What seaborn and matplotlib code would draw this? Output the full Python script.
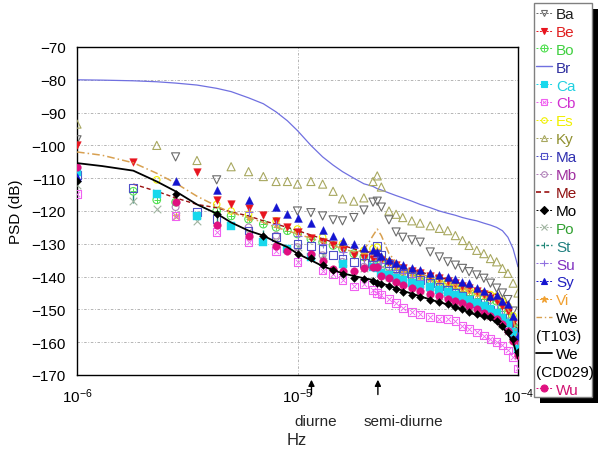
import numpy as np
import pandas as pd
import matplotlib
matplotlib.use("Agg")
import matplotlib.pyplot as plt
import seaborn as sns
from matplotlib.lines import Line2D
from matplotlib.patches import Rectangle
from matplotlib.ticker import MultipleLocator, LogLocator, NullFormatter

N = np.nan

# frequency grid in micro-Hz (1e-6 Hz)
freq_uHz = [1.0, 1.3, 1.8, 2.3, 2.8, 3.5, 4.3, 5.0, 6.0, 7.0,
            8.0, 9.0, 10, 11.5, 13, 14.5, 16, 18, 20, 22,
            23, 24, 26, 28, 30, 33, 36, 40, 44, 48,
            52, 56, 60, 65, 70, 75, 80, 85, 90, 95,
            100]

psd_Br = [-80, -80.1, -80.3, -80.6, -81.0, -81.6, -82.6, -83.6, -85.5, -87.3,
          -89.8, -92.5, -95.5, -100, -103.5, -106, -108, -110, -111.7, -112.5,
          -113.2, -113.6, -114.5, -115.3, -116, -117, -118, -119, -120, -120.7,
          -121.3, -122, -122.5, -123, -123.7, -124.3, -125, -126, -128, -131.5,
          -137]
psd_Ky = [-93.5, N, N, -100, N, -104.6, N, -106.5, -108, -109.5,
          -111, -111, -111.8, -111, -111.8, -114, -116.3, -117, -116, -111,
          -109.3, -112.7, -120, -121, -122, -123, -123.7, -124.5, -125.3, -126,
          -127.5, -129, -130.5, -132, -133, -134.5, -135.5, -137.5, -139, -142,
          -145]
psd_Ba = [-98.3, N, N, N, -103.5, N, -110.5, N, N, N,
          N, N, -120, -120.5, -121.5, -122.7, -123, -122, -119.7, -117.3,
          -117, -118.8, -122.7, -126.4, -128, -128.8, -129.5, -132.5, -134, -135.5,
          -136.5, -137.5, -138.5, -139.5, -140.5, -142, -143.5, -145, -147, -150.5,
          -156]
psd_Sy = [-109.5, N, N, N, -110.8, N, -113.6, N, -116.6, N,
          -118.8, -121, -122, -123.7, -125.8, -127.6, -129, -130, -131.3, -132,
          -132.5, -133.7, -135, -136, -136.5, -137.3, -138, -139, -139.6, -140,
          -140.8, -141.5, -142, -143.5, -144.5, -146, -145.5, -147.5, -148.5, -152,
          -158]
psd_Be = [-100, N, -105, N, N, -108, -116.6, -117.9, -119, -121.2,
          -123, -125, -126.5, -128.3, -129.3, -130.5, -132, -133.5, -134.2, -134.6,
          -134, -135, -135.8, -136.5, -137.3, -138.3, -139, -139.8, -140.5, -141.3,
          -142, -142.8, -143.5, -144.5, -145.3, -146.5, -147.5, -149, -150.5, -154,
          -160]
psd_Bo = [N, N, -114, -116.6, -117.3, N, -120, -121.5, -122.5, -124,
          -125, -126, -127, -128.5, -129.5, -130.5, -131.5, -133, -134, -135,
          -134, -136, -137, -137.8, -138.5, -139.5, -140.3, -141, -141.8, -142.5,
          -143.5, -144.5, -145.5, -146.5, -146.8, -147, -147.5, -149.5, -151.5, -155,
          -160]
psd_Es = [N, N, N, -110.5, N, N, -118, -120, -121, N,
          -123, N, -125.5, N, -128, N, -130, N, -132, -131.5,
          -131, -134.5, -135.5, -136.5, -137.3, -138.3, -139, -140, -140.7, -141.5,
          -142.3, -143, -143.8, -144.5, -145, -145.5, -146, -147.5, -149, -152,
          -157]
psd_Vi = [N, N, N, N, -121.5, N, N, N, -122, N,
          -124, N, -126.5, N, -129, N, -131, N, -133, -132.5,
          -132, -134.5, -136, -137.5, -138.5, -139.3, -140, -140.8, -141.5, -142.3,
          -143, -143.8, -144.5, -145.3, -146, -146.5, -147, -148.5, -150.5, -153,
          -158]
psd_Me = [N, N, -111.8, -114, -116, -118, -119, -120.3, -121.5, -123,
          -124, -125, -126, -127.3, -128.5, -129.5, -130.5, -131.5, -132.5, -132.5,
          -132, -134, -135, -136, -137, -138, -138.5, -139.5, -140, -141,
          -141.5, -142.3, -143, -143.8, -144.5, -145, -145.5, -147, -148, -151.5,
          -157]
psd_Mo = [-111, N, N, N, -114.8, N, -121, N, N, -127.5,
          N, N, -133, -134.3, -136.5, -138, -139.2, -140.4, -140.7, -141.3,
          -141.8, -142.3, -143, -143.7, -144.7, -145.5, -146.3, -147.2, -147.8, -148.5,
          -149.3, -150, -150.8, -151.5, -152, -152.3, -153.5, -155, -157, -159,
          -163]
psd_We_CD029 = [-105.4, -106.3, -107.7, -111, -114, -118, -120.8, -123.5, -126, -127.5,
                -129.5, -131, -133, -135, -136.8, -138, -139, -139.8, -140.5, -141,
                -141.5, -142, -142.8, -143.5, -144.3, -145.2, -146, -147, -147.8, -148.5,
                -149.3, -150, -151, -151.7, -152.2, -152.8, -154, -155.5, -157.5, -160,
                -165]
psd_We_T103 = [-102, -103, -105.3, -108.5, -111.5, -115.5, -118.5, -120.5, -122, -123.5,
               -125, -126, -127, -128.3, -129.5, -130.5, -131.5, -132.5, -132, -127.5,
               -125.5, -127.5, -133, -135.5, -137, -138.5, -139.3, -140, -140.8, -141.5,
               -142.5, -143.3, -144, -145, -145.5, -146, -146.5, -148, -150, -153,
               -159]
psd_Wu = [-106.6, N, N, N, -117.3, N, -124.3, N, -127.6, N,
          -130.7, -132.2, N, -133, -135.2, -137.7, -138.3, -138.3, -137.5, -137,
          -137, -139.8, -140.5, -141.5, -142.5, -143.5, -144.5, -145.3, -146, -146.7,
          -147.3, -148, -149, -150, -151, -152, -153, -154.5, -156.5, -159.5,
          -164]
psd_Cb = [-114.8, N, N, N, -121.5, N, -126.4, N, -129.5, N,
          -132.2, N, -135.5, N, -138.2, -139.2, -141, -143, -142.3, -144,
          -145, -145.5, -146.8, -148, -149.5, -150.8, -151.5, -152.3, -152.8, -153,
          -153.5, -155, -156, -157, -158, -159, -160, -161, -162.5, -164.5,
          -168]
psd_Ma = [-109, N, -113, N, N, -120.3, -122.4, N, -126, N,
          -128, N, -130, -130.6, -131.6, -133.5, -134.5, -135.5, -135.8, -134,
          -130.6, -133.5, -136, -137.5, -139, -140.2, -141, -142, -143, -144,
          -145, -146, -147, -148, -149, -150, -151, -152.5, -154.5, -157,
          -162]
psd_Ca = [-108, N, N, -114.8, N, -121.5, N, -124.6, N, -129.5,
          N, -131.6, N, -134, N, N, -136.2, N, N, -137,
          -137.5, -139, -139.5, -140.3, -141, -142, -142.5, -143.3, -144, -144.8,
          -145.5, -146.3, -147, -148, -149, -150, -151, -152.5, -154, -157,
          -162]
psd_Mb = [N, N, N, N, -118.8, N, N, N, -125, N,
          -127.5, N, -131, N, -133.5, N, -135.5, N, -137, N,
          -136, -138, -139, -140, -141, -142, -143, -144, -145, -146,
          -146.8, -147.5, -148.3, -149, -150, -151, -152, -153.5, -155.5, -158.5,
          -163]
psd_Po = [-112, N, -117, -119.4, -121.5, -123, N, N, -127, N,
          -129, N, -131, N, -133.5, N, -135.5, N, -137.5, N,
          -137, -139, -140, -141, -142, -143, -144, -145, -146, -147,
          -147.8, -148.5, -149.3, -150, -151, -152, -153, -154.5, -156.5, -159,
          -164]
psd_St = [N, N, -116.3, N, N, N, -122, N, N, -127,
          N, N, -131.5, N, -134, N, -136, N, -137.5, N,
          -137, -138.5, -139.5, -140.5, -141.5, -142.5, -143.3, -144, -145, -146,
          -147, -148, -148.8, -149.5, -150.5, -151.5, -152.5, -154, -156, -159,
          -164]
psd_Su = [N, N, N, N, N, N, N, N, -120.3, N,
          -124, N, -127.5, N, -130, N, -132.5, N, -134.5, N,
          -134, -136, -137, -138, -139, -140, -141, -142, -143, -144,
          -145, -146, -146.8, -147.5, -148.3, -149, -150, -151.5, -153.5, -156.5,
          -161]

legend_labels = ["Ba", "Be", "Bo", "Br", "Ca", "Cb", "Es", "Ky", "Ma", "Mb", "Me",
                 "Mo", "Po", "St", "Su", "Sy", "Vi", "We", "(T103)", "We", "(CD029)", "Wu"]

C = {"Ba": "#6a6a6a", "Be": "#e8141e", "Bo": "#50e050", "Br": "#7070e0",
     "Ca": "#18d8ec", "Cb": "#f060f0", "Es": "#f0f000", "Ky": "#a8a860",
     "Ma": "#5050c8", "Mb": "#b080b8", "Me": "#9a1010", "Mo": "#000000",
     "Po": "#a0b4a0", "St": "#208878", "Su": "#9070e0", "Sy": "#1414d0",
     "Vi": "#f0a030", "WeT": "#d8a050", "WeC": "#000000", "Wu": "#e01080"}
TXT = {"Ba": "#202020", "Be": "#e02020", "Bo": "#40d040", "Br": "#3030a0",
       "Ca": "#20d0e0", "Cb": "#d030d0", "Es": "#f0f000", "Ky": "#909030",
       "Ma": "#3030b0", "Mb": "#a030a0", "Me": "#901010", "Mo": "#000000",
       "Po": "#30a030", "St": "#208080", "Su": "#8030c0", "Sy": "#2020c0",
       "Vi": "#f0a030", "We": "#000000", "(T103)": "#000000", "(CD029)": "#000000",
       "Wu": "#d01070"}

sns.set_theme(style="white")
plt.rcParams["font.family"] = ["Liberation Sans", "DejaVu Sans"]
plt.rcParams["mathtext.fontset"] = "custom"
plt.rcParams["mathtext.rm"] = "Liberation Sans"
plt.rcParams["mathtext.it"] = "Liberation Sans:italic"
plt.rcParams["mathtext.default"] = "regular"

fig = plt.figure(figsize=(6.03, 4.52), dpi=100)
fig.patch.set_facecolor("white")
ax = fig.add_axes([77 / 603, 1 - 376 / 452, 441 / 603, 328 / 452])


def sdf(vals):
    return pd.DataFrame({"f": np.array(freq_uHz) * 1e-6, "psd": vals}).dropna()


def line(vals, col, lw=1.0, ls="-", z=2):
    sns.lineplot(data=sdf(vals), x="f", y="psd", ax=ax, color=col, linewidth=lw,
                 linestyle=ls, sort=False, estimator=None, legend=False, zorder=z)


def scat(vals, marker, col, s=30, hollow=False, lw=0.8, z=3):
    d = sdf(vals)
    if marker in ("x", "+", "|"):
        sns.scatterplot(data=d, x="f", y="psd", ax=ax, marker=marker, s=s, color=col,
                        linewidth=lw, legend=False, zorder=z)
    elif hollow:
        sns.scatterplot(data=d, x="f", y="psd", ax=ax, marker=marker, s=s,
                        facecolor="none", edgecolor=col, linewidth=lw, legend=False, zorder=z)
    else:
        sns.scatterplot(data=d, x="f", y="psd", ax=ax, marker=marker, s=s, color=col,
                        edgecolor=col, linewidth=0.3, legend=False, zorder=z)


line(psd_Br, C["Br"], lw=0.9, z=2)
scat(psd_Ky, "^", C["Ky"], s=34, hollow=True, z=3)
scat(psd_Ba, "v", C["Ba"], s=34, hollow=True, z=3)
scat(psd_Bo, "o", C["Bo"], s=30, hollow=True, z=3)
scat(psd_Bo, "+", C["Bo"], s=22, lw=0.7, z=3)
scat(psd_Es, "o", C["Es"], s=22, hollow=True, z=3)
scat(psd_Vi, "*", C["Vi"], s=30, z=3)
line(psd_Me, C["Me"], lw=1.0, ls=(0, (3, 2)), z=3)
scat(psd_Be, "v", C["Be"], s=30, z=4)
scat(psd_St, "|", C["St"], s=30, lw=1.0, z=4)
scat(psd_Su, "+", C["Su"], s=30, lw=0.8, z=4)
scat(psd_Po, "x", C["Po"], s=30, lw=0.8, z=4)
scat(psd_Mb, "o", C["Mb"], s=24, hollow=True, z=4)
scat(psd_Ma, "s", C["Ma"], s=30, hollow=True, z=4)
scat(psd_Ca, "s", C["Ca"], s=26, z=4)
scat(psd_Cb, "s", C["Cb"], s=30, hollow=True, z=4)
scat(psd_Cb, "x", C["Cb"], s=14, lw=0.6, z=4)
line(psd_We_T103, C["WeT"], lw=1.1, ls=(0, (5, 2, 1, 2)), z=5)
scat(psd_Sy, "^", C["Sy"], s=32, z=6)
scat(psd_Wu, "o", C["Wu"], s=30, z=6)
scat(psd_Mo, "D", C["Mo"], s=16, z=7)
line(psd_We_CD029, C["WeC"], lw=1.3, z=8)

ax.set_xscale("log")
ax.set_xlim(1e-6, 1e-4)
ax.set_ylim(-170, -70)
ax.set_xticks([1e-6, 1e-5, 1e-4])
ax.set_xticklabels(["10$^{-6}$", "10$^{-5}$", "10$^{-4}$"])
ax.xaxis.set_minor_locator(LogLocator(base=10, subs=np.arange(2, 10)))
ax.xaxis.set_minor_formatter(NullFormatter())
ax.yaxis.set_major_locator(MultipleLocator(10))
ax.yaxis.set_minor_locator(MultipleLocator(5))
ax.tick_params(which="both", direction="out", top=False, right=False,
               labelsize=11, colors="black")
ax.tick_params(which="major", length=5, width=1, pad=3)
ax.tick_params(which="minor", length=3, width=1)
ax.grid(True, which="major", color="#a8a8a8", linewidth=0.6, linestyle=(0, (3, 2, 1, 2)))
for sp in ax.spines.values():
    sp.set_color("black")
    sp.set_linewidth(1.0)
ax.set_xlabel("")
ax.set_ylabel("PSD (dB)", fontsize=11, color="black")
ax.yaxis.set_label_coords(-0.122, 0.5)

# tidal arrows
for f in (1.157e-5, 2.315e-5):
    ax.annotate("", xy=(f, -0.006), xycoords=("data", "axes fraction"),
                xytext=(f, -0.068), textcoords=("data", "axes fraction"),
                arrowprops=dict(arrowstyle="-|>", color="black", lw=1.0, mutation_scale=9),
                annotation_clip=False)
ax.text(0.542, -0.14, "diurne", transform=ax.transAxes, ha="center", va="center", fontsize=11)
ax.text(0.739, -0.14, "semi-diurne", transform=ax.transAxes, ha="center", va="center", fontsize=11)
fig.text(297 / 603, 1 - 441 / 452, "Hz", ha="center", va="center", fontsize=12)

# legend handles
def mh(marker, col, hollow=False, ms=5, ls=(0, (2, 1.5)), lw=0.7):
    return Line2D([0], [0], color=col, lw=lw, ls=ls, marker=marker, ms=ms,
                  mfc="none" if hollow else col, mec=col, mew=0.8)

blank = Line2D([], [], ls="none")
handles = [
    mh("v", C["Ba"], hollow=True),
    mh("v", C["Be"]),
    (mh("o", C["Bo"], hollow=True), Line2D([0], [0], ls="none", marker="+", ms=5, color=C["Bo"], mew=0.7)),
    Line2D([0], [0], color=C["Br"], lw=1.0),
    mh("s", C["Ca"]),
    (mh("s", C["Cb"], hollow=True), Line2D([0], [0], ls="none", marker="x", ms=3, color=C["Cb"], mew=0.6)),
    mh("o", C["Es"], hollow=True, ms=4),
    mh("^", C["Ky"], hollow=True),
    mh("s", C["Ma"], hollow=True),
    mh("o", C["Mb"], hollow=True, ms=4),
    Line2D([0], [0], color=C["Me"], lw=1.2, ls=(0, (3, 2))),
    mh("D", C["Mo"], ms=4),
    mh("x", C["Po"]),
    mh("|", C["St"], lw=1.0),
    mh("+", C["Su"]),
    mh("^", C["Sy"]),
    mh("*", C["Vi"]),
    Line2D([0], [0], color=C["WeT"], lw=1.0, ls=(0, (4, 2, 1, 2))),
    blank,
    Line2D([0], [0], color="black", lw=1.3),
    blank,
    mh("o", C["Wu"]),
]

fs = 11
leg = fig.legend(handles, legend_labels, loc="upper left",
                 bbox_to_anchor=(536 / 603, 1 - 8 / 452), bbox_transform=fig.transFigure,
                 frameon=False, fontsize=fs, handlelength=1.05, handletextpad=0.26,
                 labelspacing=0.255, borderpad=0, borderaxespad=0, numpoints=1)
shift = (1.05 + 0.26) * fs * fig.dpi / 72
for t, lab in zip(leg.get_texts(), legend_labels):
    t.set_color(TXT[lab])
    if lab.startswith("("):
        t.set_x(-shift)
leg.set_zorder(6)

# legend frame with black shadow
x0, x1, y0, y1 = 534, 592, 4, 398
fig.patches.append(Rectangle((x0 / 603 + 6 / 603, 1 - (y1 + 6) / 452), (x1 - x0) / 603, (y1 - y0) / 452,
                             transform=fig.transFigure, facecolor="black", edgecolor="none", zorder=3))
fig.patches.append(Rectangle((x0 / 603, 1 - y1 / 452), (x1 - x0) / 603, (y1 - y0) / 452,
                             transform=fig.transFigure, facecolor="white", edgecolor="#808080",
                             linewidth=1.0, zorder=4))

fig.savefig("out.png", dpi=100)
